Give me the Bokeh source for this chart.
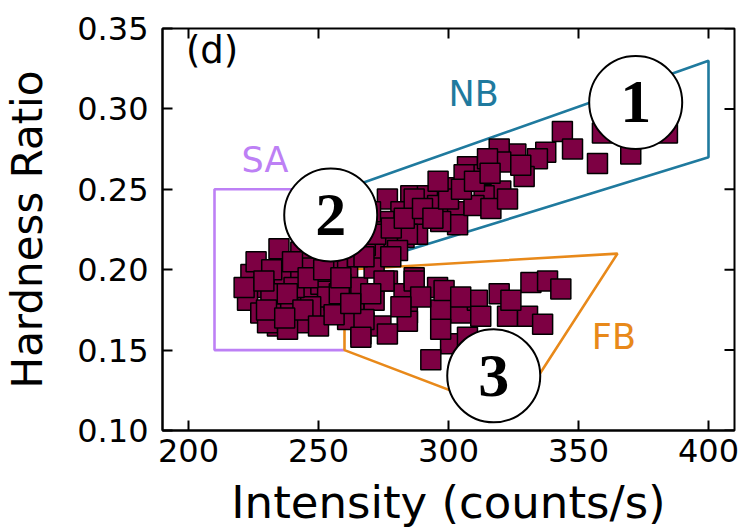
import math
from bokeh.plotting import figure
from bokeh.models import FixedTicker, PrintfTickFormatter, ColumnDataSource
from bokeh.core.properties import value
from bokeh.embed import file_html
from bokeh.resources import INLINE

# ---------------- data ----------------
intensity = [
    # NB branch
    343.8, 347.7, 357.3, 359.2, 370.1, 384.2, 337.4, 334.2, 325.9, 319.5, 320.1, 307.3,
    329.1, 320.1, 313.7, 298.3, 302.2, 303.5, 289.3, 285.5, 291.9, 309.8, 316.3, 322.7,
    282.9, 288.1, 327.8, 312.4, 306.0, 315.0, 295.8, 297.0,
    276.5, 281.7, 284.2, 276.5, 271.4, 286.8, 275.2, 280.4,
    262.0, 268.0, 272.0, 278.0, 283.0, 290.0, 294.0, 300.0, 305.0, 310.0, 316.0, 296.0, 266.0, 270.0,
    # SA cluster
    234.8, 243.2, 224.0, 228.5, 222.7, 227.8, 236.8, 235.5, 239.3, 234.2, 245.8, 243.2,
    250.9, 249.6, 256.0, 243.2, 261.2, 265.0, 263.7, 267.5, 266.3, 274.0, 271.4, 276.5,
    282.9, 284.2, 286.8, 257.3, 271.4, 265.0, 221.4, 231.7, 230.4, 238.1, 247.0, 253.5,
    258.6, 253.5, 261.2, 247.0, 240.6,
    226.0, 232.0, 240.0, 246.0, 252.0, 258.0, 238.0, 230.0, 244.0, 250.0, 256.0, 229.0, 237.0,
    # FB branch
    286.8, 295.8, 297.0, 284.2, 276.5, 267.5, 266.3, 275.2, 270.1, 289.3, 304.7, 311.1,
    319.5, 312.4, 322.7, 330.4, 336.2, 331.7, 338.1, 343.2, 324.0, 300.8, 293.2, 307.3,
    298.3, 304.7, 297.0, 281.7, 262.4, 258.6, 267.5, 277.8,
]
hardness = [
    # NB branch
    0.286, 0.275, 0.266, 0.285, 0.272, 0.285, 0.273, 0.269, 0.272, 0.275, 0.267, 0.264,
    0.258, 0.249, 0.246, 0.251, 0.236, 0.228, 0.232, 0.246, 0.246, 0.240, 0.238, 0.244,
    0.220, 0.222, 0.265, 0.259, 0.259, 0.269, 0.240, 0.230,
    0.244, 0.236, 0.222, 0.220, 0.212, 0.244, 0.230, 0.212,
    0.210, 0.215, 0.222, 0.226, 0.232, 0.238, 0.232, 0.244, 0.250, 0.255, 0.260, 0.255, 0.228, 0.236,
    # SA cluster
    0.213, 0.211, 0.197, 0.189, 0.181, 0.173, 0.195, 0.179, 0.173, 0.165, 0.187, 0.199,
    0.191, 0.173, 0.181, 0.167, 0.199, 0.189, 0.177, 0.167, 0.160, 0.165, 0.181, 0.193,
    0.185, 0.173, 0.195, 0.203, 0.201, 0.208, 0.189, 0.185, 0.167, 0.163, 0.201, 0.199,
    0.191, 0.183, 0.169, 0.177, 0.189,
    0.205, 0.200, 0.205, 0.195, 0.200, 0.185, 0.185, 0.175, 0.175, 0.165, 0.172, 0.193, 0.170,
    # FB branch
    0.193, 0.189, 0.175, 0.168, 0.160, 0.169, 0.158, 0.193, 0.185, 0.183, 0.173, 0.181,
    0.185, 0.171, 0.171, 0.171, 0.166, 0.192, 0.193, 0.188, 0.181, 0.154, 0.144, 0.158,
    0.187, 0.183, 0.163, 0.177, 0.179, 0.195, 0.208, 0.208,
]

# region outlines
sa_x = [260, 210, 210, 260]
sa_y = [0.25, 0.25, 0.15, 0.15]
nb_x = [260, 400, 400, 260]
nb_y = [0.25, 0.33, 0.27, 0.20]
fb_x = [260, 365, 325, 260, 260]
fb_y = [0.20, 0.21, 0.11, 0.15, 0.20]

# region names
region_names = ["SA", "NB", "FB"]
region_x = [229.4, 309.7, 363.6]
region_y = [0.268, 0.309, 0.158]
region_colors = ["#bd80f5", "#1f7a9e", "#e8891a"]

# numbered circles
circle_labels = ["1", "2", "3"]
circle_x = [372.0, 254.7, 317.4]
circle_y = [0.304, 0.234, 0.134]

panel_label = ["(d)"]
panel_x = [199.0]
panel_y = [0.3495]

x_ticks = [200, 250, 300, 350, 400]
y_ticks = [0.10, 0.15, 0.20, 0.25, 0.30, 0.35]
x_lim = (190, 410)
y_lim = (0.10, 0.35)

# ---------------- figure ----------------
p = figure(width=744, height=531, x_range=x_lim, y_range=y_lim,
           output_backend="svg", toolbar_location=None,
           min_border_left=162, min_border_right=10, min_border_top=28, min_border_bottom=96,
           x_axis_label="Intensity (counts/s)", y_axis_label="Hardness Ratio")
p.grid.visible = False
p.outline_line_color = "black"
p.outline_line_width = 2
p.background_fill_color = "white"
p.border_fill_color = "white"

for ax, ticks in ((p.xaxis[0], x_ticks), (p.yaxis[0], y_ticks)):
    ax.ticker = FixedTicker(ticks=ticks)
    ax.major_tick_in = 10
    ax.major_tick_out = 0
    ax.minor_tick_line_color = None
    ax.axis_line_width = 2
    ax.major_tick_line_width = 2
    ax.axis_line_color = "black"
    ax.major_tick_line_color = "black"
    ax.major_label_text_font = "DejaVu Sans"
    ax.major_label_text_font_size = "32px"
    ax.major_label_text_color = "black"
    ax.axis_label_text_font = "DejaVu Sans"
    ax.axis_label_text_font_style = "normal"
    ax.axis_label_text_color = "black"
p.xaxis[0].axis_label_text_font_size = "45px"
p.yaxis[0].axis_label_text_font_size = "42px"
p.yaxis[0].formatter = PrintfTickFormatter(format="%.2f")
p.xaxis[0].major_label_standoff = 8
p.xaxis[0].axis_label_standoff = 11
p.yaxis[0].major_label_standoff = 14
p.yaxis[0].axis_label_standoff = 22

# inward ticks on the top and right edges of the frame
p.scatter(x_ticks, [y_lim[1]] * len(x_ticks), marker="dash", size=20,
          angle=math.pi / 2, line_color="black", line_width=2)
p.scatter([x_lim[1]] * len(y_ticks), y_ticks, marker="dash", size=20,
          line_color="black", line_width=2)

# region outlines
p.line(sa_x, sa_y, line_color=region_colors[0], line_width=2.6)
p.line(nb_x, nb_y, line_color=region_colors[1], line_width=2.6)
p.line(fb_x, fb_y, line_color=region_colors[2], line_width=2.6)

# data points
p.scatter(intensity, hardness, marker="square", size=20,
          fill_color="#7d0043", line_color="black", line_width=1.5)

# region names
region_src = ColumnDataSource(dict(x=region_x, y=region_y, t=region_names, c=region_colors))
p.text(x="x", y="y", text="t", text_color="c", source=region_src,
       text_font=value("DejaVu Sans"), text_font_size="35px",
       text_align="center", text_baseline="middle")

# numbered circles
p.scatter(circle_x, circle_y, marker="circle", size=93,
          fill_color="white", line_color="black", line_width=2)
p.text(x=circle_x, y=circle_y, text=circle_labels,
       text_font=value("Liberation Serif"), text_font_style="bold",
       text_font_size="62px", text_align="center", text_baseline="middle",
       text_color="black")

# panel label
p.text(x=panel_x, y=panel_y, text=panel_label, text_font=value("DejaVu Sans"),
       text_font_size="37px", text_align="left", text_baseline="top", text_color="black")

open("out.html", "w").write(file_html(p, INLINE))
